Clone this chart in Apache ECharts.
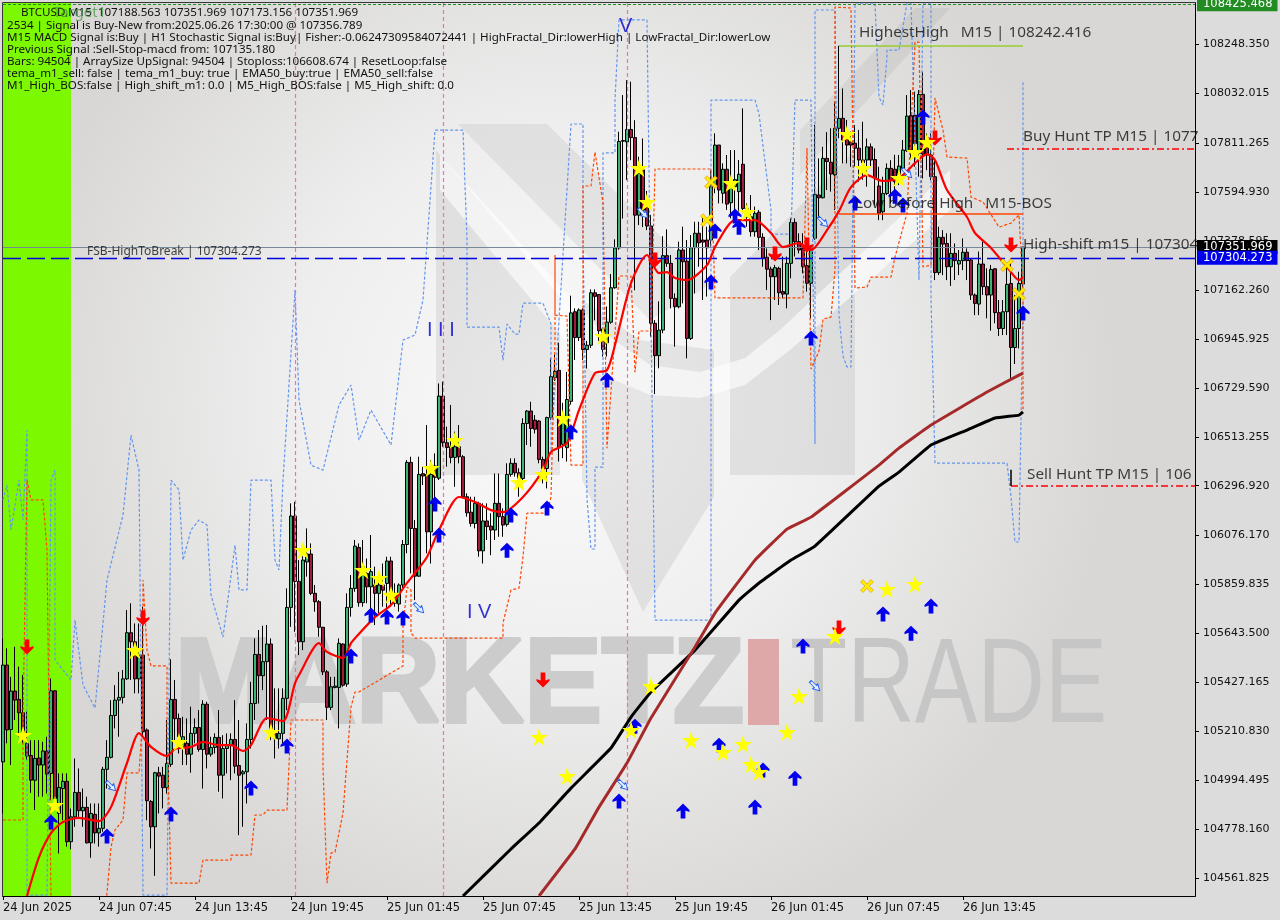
<!DOCTYPE html>
<html>
<head>
<meta charset="utf-8">
<title>BTCUSD M15</title>
<script src="https://cdn.jsdelivr.net/npm/echarts@6/dist/echarts.min.js"></script>
<style>
html,body{margin:0;padding:0;background:#dcdcdc;}
#chart{width:1280px;height:920px;}
</style>
</head>
<body>
<div id="chart"></div>
<script>
// open, close, low, high for each M15 bar
var ohlc = [
[105076,105504,104848,105622],[105504,105217,105158,105578],[105219,105389,105062,105452],[105389,105349,105261,105585],
[105352,105293,105187,105497],[105293,105194,105158,105460],[105158,105102,105084,105298],[105104,104995,104939,105172],
[104995,105091,104863,105172],[105093,105062,104922,105172],[105062,105124,104922,105165],[105124,105022,104936,105187],
[105025,105390,104907,105445],[105390,104914,104870,105393],[104848,104963,104671,105025],[104958,104990,104818,105025],
[104990,104723,104701,105025],[104723,104833,104689,104870],[104833,104941,104789,105091],[104941,104860,104833,105047],
[104860,104875,104789,104958],[104875,104718,104715,104922],[104718,104848,104652,104892],[104844,104762,104715,104892],
[104762,104782,104701,104892],[104782,105043,104767,105054],[105043,105096,104958,105172],[105096,105281,105091,105349],
[105281,105349,105224,105415],[105349,105361,105187,105474],[105361,105443,105334,105482],[105443,105647,105438,105747],
[105647,105607,105438,105777],[105607,105443,105379,105688],[105443,105548,105379,105688],[105548,105209,105187,105762],
[105217,104904,104818,105224],[104901,104789,104693,104907],[104789,105028,104572,105032],[105028,105013,104848,105054],
[105017,104962,104870,105054],[104962,105069,104936,105261],[105065,105352,105054,105530],[105352,105267,105172,105438],
[105268,105187,105113,105290],[105143,105187,105062,105275],[105158,105110,105062,105268],[105110,105202,105028,105320],
[105202,105228,105158,105268],[105228,105131,105121,105305],[105131,105331,104958,105349],[105331,105110,105047,105342],
[105110,105140,105099,105187],[105140,105184,105113,105202],[105184,105017,104944,105305],[105017,105135,104914,105194],
[105135,105153,105025,105202],[105153,105175,104995,105202],[105175,105057,105025,105349],[105060,105017,104752,105261],
[105023,105032,104789,105040],[105032,105175,104892,105246],[105175,105334,105135,105430],[105334,105551,105261,105622],
[105551,105457,105334,105659],[105457,105519,105393,105678],[105519,105597,105261,105681],[105597,105202,105172,105622],
[105202,105180,105091,105401],[105178,105202,105135,105401],[105202,105357,105158,105401],[105357,105759,105305,105843],
[105759,106163,105673,106219],[106163,105874,105651,106226],[105874,105607,105548,105968],[105607,105968,105570,105985],
[105960,105995,105895,106108],[105995,105821,105813,106042],[105821,105784,105740,105858],[105784,105671,105629,105791],
[105671,105474,105460,105673],[105474,105317,105261,105482],[105317,105408,105305,105452],[105405,105411,105401,105452],
[105405,105600,105224,105622],[105597,105415,105408,105600],[105420,105759,105408,105821],[105759,105843,105718,105902],
[105843,106030,105828,106057],[106024,105780,105762,106042],[105780,105939,105762,106057],[105909,105850,105777,105975],
[105850,105917,105732,106079],[105858,105821,105681,105939],[105821,105858,105732,105909],[105858,105835,105762,105953],
[105865,105964,105747,105983],[105964,105821,105762,105983],[105821,105777,105762,105865],[105774,105858,105740,105865],
[105858,106037,105843,106057],[106037,106400,105998,106410],[106400,106108,105909,106425],[106108,105897,105791,106145],
[105897,106347,105894,106425],[106350,106340,106300,106380],[106347,106093,105998,106565],[106093,106347,105953,106410],
[106384,106334,106219,106440],[106330,106693,106322,106749],[106693,106487,106469,106757],[106487,106466,106381,106558],
[106469,106422,106396,106654],[106422,106469,106292,106536],[106469,106425,106396,106565],[106425,106248,106241,106432],
[106248,106177,106160,106263],[106180,106130,106116,106248],[106130,106219,106108,106248],[106219,106009,105983,106226],
[106009,106141,105953,106219],[106141,106116,106057,106219],[106118,106101,105990,106175],[106101,106219,106057,106351],
[106219,106160,106071,106351],[106160,106123,106071,106197],[106126,106347,106116,106396],[106347,106396,106337,106418],
[106396,106354,106337,106418],[106354,106329,106248,106374],[106329,106572,106322,106595],[106572,106627,106477,106631],
[106627,106550,106469,106668],[106587,106547,106528,106609],[106583,106413,106396,106587],[106413,106373,106307,106425],
[106373,106598,106285,106602],[106598,106779,106587,106860],[106775,106803,106760,106875],[106807,106465,106404,106929],
[106480,106600,106419,106663],[106465,106678,106404,106800],[106670,107061,106655,107137],[107066,106952,106853,107081],
[106952,107074,106937,107081],[107074,106899,106853,107081],[106899,106918,106815,106937],[106918,107150,106906,107165],
[107150,107134,107028,107165],[107142,106982,106937,107142],[106990,106899,106868,106997],[106929,107020,106868,107089],
[107020,107172,107013,107233],[107172,107348,107168,107386],[107348,107819,107340,107862],[107820,107823,107478,108024],
[107817,107872,107648,108090],[107872,107836,107736,108083],[107836,107493,107161,107913],[107493,107677,107449,107751],
[107693,107515,107440,107832],[107530,107445,107427,107600],[107445,107015,106956,107494],[107015,106872,106702,107029],
[106872,106985,106816,107112],[106985,107314,106971,107400],[107314,107280,107265,107430],[107280,107125,107081,107317],
[107125,107088,106912,107147],[107088,107339,107081,107376],[107339,107287,107103,107442],[107290,106948,106860,107383],
[106948,107349,106941,107405],[107349,107413,107147,107464],[107413,107371,107265,107464],[107383,107374,107118,107486],
[107383,107349,107133,107442],[107383,107619,107354,107693],[107619,107803,107590,107855],[107803,107604,107545,107803],
[107590,107696,107545,107722],[107696,107542,107516,107759],[107548,107619,107479,107781],[107619,107650,107486,107781],
[107597,107674,107509,107737],[107718,107523,107501,107965],[107523,107486,107442,107545],[107486,107420,107398,107582],
[107420,107501,107398,107531],[107506,107395,107339,107516],[107395,107302,107265,107413],[107307,107254,107162,107346],
[107255,107221,107029,107265],[107221,107261,107118,107273],[107258,107150,107096,107265],[107155,107144,107125,107310],
[107144,107280,107081,107310],[107280,107461,107214,107479],[107461,107376,107310,107479],[107376,107339,107324,107413],
[107346,107265,107236,107413],[107270,107192,107155,107383],[107192,107349,107037,107361],[107391,107585,107383,107892],
[107582,107570,107486,107744],[107570,107744,107567,107795],[107744,107730,107604,107860],[107727,107675,107597,107877],
[107671,107877,107516,107995],[107877,107921,107833,108242],[107921,107825,107722,108053],[107855,107803,107722,107914],
[107818,107803,107707,107862],[107811,107789,107707,107892],[107789,107737,107641,107870],[107737,107725,107650,107906],
[107737,107795,107619,107832],[107795,107737,107707,107810],[107739,107658,107537,107788],[107622,107501,107471,107707],
[107508,107589,107471,107663],[107589,107700,107582,107722],[107700,107648,107545,107736],[107696,107641,107580,107760],
[107655,107710,107626,107759],[107700,107781,107692,107825],[107778,107931,107773,108024],[107933,107781,107736,108046],
[107935,107810,107707,108039],[107766,108027,107663,108046],[108027,107763,107655,108127],[107810,107759,107692,107854],
[107759,107663,107648,107854],[107663,107239,107206,107736],[107239,107395,107228,107442],[107395,107365,107228,107427],
[107368,107265,107206,107413],[107265,107324,107180,107413],[107324,107292,107206,107368],[107277,107292,107228,107339],
[107292,107329,107250,107390],[107329,107292,107206,107346],[107295,107140,107118,107302],[107140,107103,107051,107147],
[107100,107277,107051,107332],[107277,107177,107140,107376],[107177,107140,107037,107258],[107140,107253,106982,107273],
[107256,107062,107015,107258],[107062,106992,106959,107118],[106992,107066,106963,107118],[107066,107187,106963,107280],
[107191,106908,106767,107302],[106908,106992,106835,107140],[106992,107191,106904,107243],[107188.563,107351.969,107173.156,107351.969]
];

// [bar, price] vertices of the moving averages
var fastLine = [[6,104483],[9,104655],[12,104761],[15,104810],[19,104828],[24,104814],[27,104876],[31,105071],[34,105203],[37,105142],[41,105102],[43,105133],[47,105142],[50,105164],[54,105150],[57,105150],[60,105124],[62,105150],[66,105270],[70,105256],[73,105424],[74,105460],[79,105601],[81,105562],[85,105535],[87,105601],[88,105623],[93,105716],[97,105769],[101,105867],[103,105911],[106,105982],[109,106101],[114,106247],[118,106225],[122,106189],[125,106180],[130,106247],[135,106366],[137,106446],[141,106486],[144,106631],[148,106795],[151,106808],[153,106919],[157,107193],[161,107317],[164,107237],[166,107241],[168,107215],[171,107206],[176,107272],[178,107352],[183,107471],[188,107471],[192,107414],[195,107352],[199,107370],[202,107339],[206,107427],[209,107511],[212,107617],[216,107670],[220,107644],[224,107657],[228,107723],[231,107763],[233,107737],[236,107604],[241,107485],[243,107414],[247,107348],[251,107264],[254,107206],[255,107219]];
var brownLine = [[134,104483],[143,104691],[149,104876],[156,105071],[162,105270],[173,105584],[178,105734],[188,105968],[196,106105],[202,106158],[219,106388],[224,106463],[232,106565],[246,106711],[254,106786],[255,106795]];
var blackLine = [[115,104483],[127,104691],[134,104806],[142,104960],[152,105137],[157,105274],[162,105385],[173,105570],[184,105791],[189,105867],[197,105968],[203,106030],[219,106295],[224,106357],[232,106477],[241,106543],[248,106596],[254,106609],[255,106623]];

// dashed envelopes
var blueBand = [[0,106234],[1,106300],[2,106101],[4,106322],[5,106145],[6,106543],[6,104487],[11,104487],[12,106322],[13,106366],[13,105526],[14,105504],[17,105438],[18,105703],[20,105416],[23,105314],[26,105880],[30,106167],[32,106521],[34,106366],[35,104487],[41,104487],[42,106322],[44,106278],[45,105968],[47,106101],[49,106145],[51,106123],[52,105814],[55,105628],[58,106034],[59,105836],[61,105836],[62,106322],[67,106322],[68,105968],[69,105924],[70,106322],[73,107162],[74,106676],[77,106388],[80,106366],[84,106654],[87,106742],[89,106499],[92,106631],[97,106477],[100,106941],[103,106963],[105,107118],[108,107869],[115,107869],[116,107383],[116,106998],[124,106998],[125,106852],[126,107012],[128,106967],[129,106967],[130,107104],[135,107104],[137,107012],[137,106450],[142,107896],[145,107896],[145,107392],[146,106238],[147,106017],[148,106017],[148,106379],[150,106379],[150,107768],[153,107768],[153,108002],[154,108356],[161,108356],[163,105703],[177,105703],[177,108002],[188,108002],[189,107940],[192,107516],[192,107409],[197,107409],[198,108002],[202,108002],[203,106481],[203,108400],[208,108400],[209,107050],[210,106870],[211,106822],[212,106822],[213,108430],[218,108430],[219,108015],[220,107980],[221,108192],[221,108223],[224,108223],[226,108430],[227,108430],[229,107206],[230,108430],[232,108430],[232,107131],[233,106397],[251,106397],[252,106247],[253,106048],[254,106048],[255,107118],[255,108090]];
var orangeBand = [[0,104819],[5,104819],[5,105261],[6,106322],[7,106234],[10,106234],[11,106012],[12,104483],[13,104200],[25,104200],[26,104496],[27,104700],[28,104775],[30,104819],[31,105027],[34,105027],[35,105292],[35,105880],[36,105570],[37,105500],[41,105500],[41,105217],[42,104540],[49,104540],[50,104642],[57,104642],[57,104664],[62,104664],[63,104841],[65,104841],[66,104863],[71,104863],[72,105261],[80,105261],[80,105053],[81,104540],[82,104673],[83,104677],[85,104850],[87,105318],[88,105385],[89,105385],[100,105500],[100,105672],[101,105849],[102,105836],[102,105646],[103,105623],[125,105623],[125,105690],[127,105836],[129,105844],[130,105982],[131,106176],[136,106176],[137,106247],[138,106941],[138,107317],[138,107051],[141,107047],[142,106388],[145,106388],[145,107622],[147,107622],[148,107772],[150,107547],[151,106463],[154,107224],[157,107224],[158,106799],[159,106981],[162,106981],[163,107697],[177,107697],[178,107127],[200,107127],[201,107790],[202,106813],[204,106892],[205,107034],[207,107042],[208,107255],[208,108413],[212,108409],[213,107171],[216,107175],[217,107219],[222,107219],[223,107308],[226,107502],[228,108258],[229,108258],[230,107264],[232,107272],[233,108011],[235,107869],[236,107750],[241,107745],[242,107573],[245,107551],[249,107440],[252,107458],[254,107494],[254,107502],[255,107162],[255,106631]];

// signal marks, [bar, price]
var starMarks = [[5,105195],[13,104885],[33,105570],[44,105164],[67,105208],[75,106012],[90,105924],[94,105889],[97,105814],[107,106375],[113,106499],[129,106313],[135,106348],[140,106596],[150,106959],[159,107701],[161,107551],[182,107635],[186,107507],[211,107852],[215,107701],[224,107657],[228,107772],[231,107816],[134,105186],[141,105013],[157,105217],[162,105411],[172,105172],[180,105119],[185,105155],[187,105066],[189,105031],[196,105208],[199,105367],[208,105632],[221,105840],[228,105862]];
var crossMarks = [[176,107471],[177,107639],[216,105853],[251,107272],[254,107144]];
var upArrows = [[12,104810],[26,104748],[42,104845],[62,104960],[71,105146],[87,105544],[92,105725],[96,105716],[100,105712],[108,106216],[109,106079],[126,106012],[127,106167],[136,106198],[142,106534],[151,106764],[177,107197],[178,107423],[183,107489],[184,107440],[202,106950],[213,107547],[223,107577],[225,107538],[230,107927],[255,107060],[154,104903],[158,105234],[170,104859],[179,105150],[188,104876],[190,105040],[198,105004],[200,105588],[220,105730],[227,105645],[232,105765]];
var downArrows = [[6,105584],[35,105712],[163,107295],[193,107321],[201,107361],[233,107834],[252,107361],[135,105438],[209,105668]];
var hollowArrows = [[27,104969],[104,105756],[155,104974],[160,107502],[205,107463],[226,107679],[203,105411]];

var yTicks = [108248.350,108032.015,107811.265,107594.930,107378.595,107162.260,106945.925,106729.590,106513.255,106296.920,106076.170,105859.835,105643.500,105427.165,105210.830,104994.495,104778.160,104561.825];
var xTickLabels = ['24 Jun 2025','24 Jun 07:45','24 Jun 13:45','24 Jun 19:45','25 Jun 01:45','25 Jun 07:45','25 Jun 13:45','25 Jun 19:45','26 Jun 01:45','26 Jun 07:45','26 Jun 13:45'];

var headLines = [
	'2534 | Signal is Buy-New from:2025.06.26 17:30:00 @ 107356.789',
	'M15 MACD Signal is:Buy | H1 Stochastic Signal is:Buy| Fisher:-0.06247309584072441 | HighFractal_Dir:lowerHigh | LowFractal_Dir:lowerLow',
	'Previous Signal :Sell-Stop-macd from: 107135.180',
	'Bars: 94504 | ArraySize UpSignal: 94504 | Stoploss:106608.674 | ResetLoop:false',
	'tema_m1_sell: false | tema_m1_buy: true | EMA50_buy:true | EMA50_sell:false',
	'M1_High_BOS:false | High_shift_m1: 0.0 | M5_High_BOS:false | M5_High_shift: 0.0'
];

var yMin = 104483, yMax = 108431, barSlots = 299;
var categories = [];
for(var n = 0; n < barSlots; n++){
	categories.push(String(n));
}

var uiFont = '"Noto Sans", sans-serif';
var axisFont = '"DejaVu Sans", sans-serif';

var arrowPath = 'path://M5 0 L10.5 6 L10.5 8 L7 6.5 L7 14 L3 14 L3 6.5 L-0.5 8 L-0.5 6 Z';
var hollowPath = 'path://M5 0 L10 6.5 L7 6.5 L7 14 L3 14 L3 6.5 L0 6.5 Z';
var starPath = 'path://M50 0 L61 35 L98 35 L68 57 L79 91 L50 70 L21 91 L32 57 L2 35 L39 35 Z';
var crossPath = 'path://M2 0 L5 3.5 L8 0 L10 2 L6.5 5 L10 8 L8 10 L5 6.5 L2 10 L0 8 L3.5 5 L0 2 Z';

function markSeries(data, symbol, size, color, extra){
	var s = {
		type: 'scatter', data: data, symbol: symbol, symbolSize: size,
		itemStyle: {color: color, opacity: 1}, z: 6, silent: true, animation: false
	};
	for(var k in extra){ s[k] = extra[k]; }
	return s;
}
function dashLine(data, color){
	return {type: 'line', data: data, showSymbol: false, silent: true, z: 3, animation: false,
		lineStyle: {color: color, width: 1.2, type: [3, 2]}};
}
function solidLine(data, color, width, smooth){
	return {type: 'line', data: data, showSymbol: false, silent: true, z: 5, animation: false, smooth: smooth,
		lineStyle: {color: color, width: width}};
}
// a label hung on a chart position
function note(i, price, text, size, color, family){
	return {value: [i, price], label: {show: true, position: 'right', distance: 0, formatter: text,
		fontSize: size, color: color, fontFamily: family || uiFont}};
}
function segment(i1, p1, i2, p2, color, width, type){
	return [{coord: [i1, p1], lineStyle: {color: color, width: width, type: type}}, {coord: [i2, p2]}];
}
function priceLine(p, color, width, type, boxColor, textColor){
	var pair = segment(0, p, barSlots - 1, p, color, width, type);
	if(boxColor){
		pair[0].label = {show: true, position: 'end', distance: 2, formatter: p.toFixed(3), color: textColor,
			backgroundColor: boxColor, padding: [1, 5, 1, 6], fontFamily: axisFont, fontSize: 11.5};
	}
	return pair;
}

var bgGraphics = [
	{type: 'rect', z: 0, shape: {x: 3, y: 3, width: 1192, height: 893},
		style: {fill: {type: 'radial', x: 0.47, y: 0.45, r: 0.62, colorStops: [
			{offset: 0, color: '#fbfbfb'}, {offset: 0.5, color: '#eeeeee'}, {offset: 1, color: '#d8d7d5'}]}}},
	{type: 'polygon', z: 0, shape: {points: [[436,150],[436,475],[560,475],[560,297]]}, style: {fill: 'rgba(0,0,0,0.07)'}},
	{type: 'polygon', z: 0, shape: {points: [[458,124],[547,124],[710,285],[650,320]]}, style: {fill: 'rgba(0,0,0,0.06)'}},
	{type: 'polygon', z: 0, shape: {points: [[582,300],[582,480],[643,612],[714,497],[714,350],[640,340]]}, style: {fill: 'rgba(0,0,0,0.07)'}},
	{type: 'polygon', z: 0, shape: {points: [[730,475],[855,475],[855,150],[730,277]]}, style: {fill: 'rgba(0,0,0,0.07)'}},
	{type: 'polygon', z: 0, shape: {points: [[800,175],[950,8],[915,8],[800,130]]}, style: {fill: 'rgba(0,0,0,0.05)'}},
	{type: 'polygon', z: 0, shape: {points: [[440,155],[600,330],[650,365],[700,372],[745,358],[780,330],[950,170],[950,210],[790,350],[745,385],[700,398],[650,395],[590,370],[440,190]]},
		style: {fill: 'rgba(255,255,255,0.6)'}},
	{type: 'text', z: 0, x: 175, y: 689, scaleX: 0.97, style: {text: 'MARKETZ', font: 'bold 120px "Liberation Sans"', fill: '#cccccc', stroke: '#cccccc', lineWidth: 4, verticalAlign: 'middle'}},
	{type: 'rect', z: 0, shape: {x: 748, y: 639, width: 31, height: 86}, style: {fill: '#dfa8a8'}},
	{type: 'text', z: 0, x: 790, y: 689, scaleX: 0.78, style: {text: 'TRADE', font: '120px "Liberation Sans"', fill: '#c6c6c6', verticalAlign: 'middle'}},
	{type: 'text', z: 20, x: 21, y: 13, style: {text: 'BTCUSD,M15  107188.563 107351.969 107173.156 107351.969', font: '11.6px ' + uiFont, fill: '#111', verticalAlign: 'middle'}},
	{type: 'text', z: 20, x: 53, y: 13, style: {text: 'Target1', font: '15px ' + uiFont, fill: 'rgba(60,150,60,0.7)', verticalAlign: 'middle'}}
];
headLines.forEach(function(line, idx){
	bgGraphics.push({type: 'text', z: 20, x: 7, y: 25.5 + idx * 12, style: {text: line, font: '11.6px ' + uiFont, fill: '#111', verticalAlign: 'middle'}});
});

var myChart = echarts.init(document.getElementById('chart'));
var option = {
	animation: false,
	backgroundColor: '#dcdcdc',
	graphic: {elements: bgGraphics},
	grid: {left: 3, top: 3, width: 1192, height: 893, show: true, borderColor: '#000', borderWidth: 1.5, backgroundColor: 'transparent', containLabel: false},
	xAxis: {
		type: 'category', data: categories, boundaryGap: false,
		axisLine: {lineStyle: {color: '#000'}},
		axisTick: {length: 4, lineStyle: {color: '#000'}, interval: function(i){ return i % 24 === 0 && i <= 240; }},
		axisLabel: {
			interval: function(i){ return i % 24 === 0 && i <= 240; },
			formatter: function(v, i){ return xTickLabels[parseInt(v, 10) / 24] || ''; },
			align: 'left', margin: 6, color: '#111', fontFamily: axisFont, fontSize: 11.5
		},
		splitLine: {show: false}
	},
	yAxis: {
		type: 'value', position: 'right', min: yMin, max: yMax, scale: true,
		axisLine: {show: true, lineStyle: {color: '#000'}},
		axisTick: {show: true, length: 4, lineStyle: {color: '#000'}, customValues: yTicks},
		axisLabel: {customValues: yTicks, formatter: function(v){ return v.toFixed(3); }, margin: 8, color: '#111', fontFamily: axisFont, fontSize: 11},
		splitLine: {show: false}
	},
	series: [
		{type: 'line', data: [], z: 1, silent: true,
			markArea: {silent: true, itemStyle: {color: '#7cf900'}, data: [[{coord: [0, yMax]}, {coord: [17, yMin]}]]}},
		{type: 'candlestick', data: ohlc, barWidth: 3, z: 2, silent: true,
			itemStyle: {color: '#3cb371', color0: '#a01c3c', borderColor: '#000', borderColor0: '#000', borderWidth: 1}},
		dashLine(blueBand, '#6495ed'),
		dashLine(orangeBand, '#ff4500'),
		solidLine(blackLine, '#000', 3, 0.08),
		solidLine(brownLine, '#a52a2a', 3, 0.08),
		solidLine(fastLine, '#f00', 2.2, 0.25),
		{type: 'line', data: [], z: 4, silent: true,
			markLine: {silent: true, symbol: 'none', animation: false, label: {show: false},
				data: [
					segment(73, yMin, 73, yMax, '#ff69b4', 1.2, [4, 3]),
					segment(110, yMin, 110, yMax, '#ff69b4', 1.2, [4, 3]),
					segment(156, yMin, 156, yMax, '#ff69b4', 1.2, [4, 3]),
					priceLine(107351.969, '#778899', 1, 'solid', '#000', '#fff'),
					priceLine(107304.273, '#0000dd', 1.3, [18, 6], '#0000ee', '#fff'),
					priceLine(108425.468, '#228b22', 1, [3, 2], '#228b22', '#fff'),
					segment(209, 108242, 255, 108242, '#9acd32', 1.5, 'solid'),
					segment(209, 107498, 255, 107498, '#ff4500', 1.5, 'solid'),
					segment(251, 107785, 298, 107785, '#f00', 1.5, [7, 3, 2, 3]),
					segment(252, 106296, 298, 106296, '#f00', 1.5, [7, 3, 2, 3]),
					segment(252, 106368, 252, 106296, '#000', 1.5, 'solid')
				]}},
		markSeries(hollowArrows, hollowPath, [7, 13], '#fff', {symbolRotate: -135, itemStyle: {color: '#e8f0ff', borderColor: '#2060f0', borderWidth: 1, opacity: 1}}),
		markSeries(upArrows, arrowPath, [13, 15], '#0000ee', {}),
		markSeries(downArrows, arrowPath, [13, 15], '#f00', {symbolRotate: 180}),
		markSeries(starMarks, starPath, 18, '#ffff00', {z: 7}),
		markSeries(crossMarks, crossPath, 13, '#ffe000', {z: 7, itemStyle: {color: '#ffee00', borderColor: '#e09000', borderWidth: 0.6, opacity: 1}}),
		{type: 'scatter', symbolSize: 0, z: 8, silent: true, clip: false,
			data: [
				note(214, 108298, 'HighestHigh   M15 | 108242.416', 15.3, '#111'),
				note(255, 107838, 'Buy Hunt TP M15 | 1077', 15.3, '#111'),
				note(213, 107546, 'Low before High   M15-BOS', 15.3, '#111'),
				note(255, 107361, 'High-shift m15 | 107304', 15.3, '#111'),
				note(256, 106348, 'Sell Hunt TP M15 | 106', 15.3, '#111'),
				note(21, 107334, 'FSB-HighToBreak | 107304.273', 12, '#111'),
				note(106, 106985, 'I I I', 20, '#0000cc', '"Liberation Sans"'),
				note(116, 105738, 'I V', 20, '#0000cc', '"Liberation Sans"'),
				note(154, 108325, 'V', 20, '#0000cc', '"Liberation Sans"')
			]}
	]
};
myChart.setOption(option);
</script>
</body>
</html>
